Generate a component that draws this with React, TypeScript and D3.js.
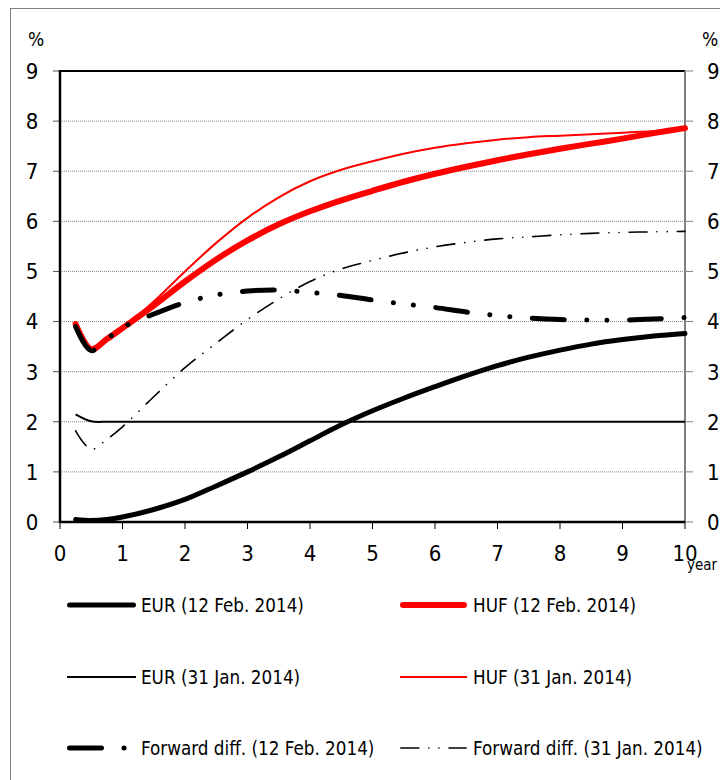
import React from "react";
import * as d3 from "d3";

const years = [0.25, 0.5, 0.75, 1, 1.5, 2, 2.5, 3, 3.5, 4, 4.5, 5, 5.5, 6, 6.5, 7, 7.5, 8, 8.5, 9, 9.5, 10];
const eur12 = [0.05, 0.03, 0.05, 0.1, 0.25, 0.45, 0.72, 1.0, 1.3, 1.62, 1.94, 2.22, 2.47, 2.7, 2.92, 3.12, 3.29, 3.43, 3.55, 3.64, 3.71, 3.76];
const eur31 = [2.15, 2.01, 2.0, 2.0, 2.0, 2.0, 2.0, 2.0, 2.0, 2.0, 2.0, 2.0, 2.0, 2.0, 2.0, 2.0, 2.0, 2.0, 2.0, 2.0, 2.0, 2.0];
const huf12 = [3.95, 3.45, 3.65, 3.87, 4.32, 4.8, 5.24, 5.62, 5.94, 6.2, 6.42, 6.61, 6.79, 6.95, 7.09, 7.22, 7.34, 7.45, 7.55, 7.65, 7.76, 7.86];
const huf31 = [3.95, 3.45, 3.65, 3.87, 4.4, 5.0, 5.57, 6.07, 6.48, 6.8, 7.03, 7.2, 7.35, 7.47, 7.56, 7.63, 7.68, 7.71, 7.74, 7.77, 7.8, 7.84];
const fwd12 = [3.9, 3.42, 3.65, 3.88, 4.15, 4.38, 4.53, 4.61, 4.63, 4.58, 4.52, 4.43, 4.35, 4.28, 4.19, 4.12, 4.07, 4.04, 4.03, 4.03, 4.05, 4.08];
const fwd31 = [1.82, 1.45, 1.65, 1.9, 2.5, 3.08, 3.57, 4.04, 4.45, 4.8, 5.05, 5.22, 5.37, 5.49, 5.58, 5.65, 5.69, 5.73, 5.76, 5.78, 5.79, 5.8];

const yTicks = [0, 1, 2, 3, 4, 5, 6, 7, 8, 9];
const xTicks = [0, 1, 2, 3, 4, 5, 6, 7, 8, 9, 10];

const legendLabels = [
  "EUR (12 Feb. 2014)",
  "HUF (12 Feb. 2014)",
  "EUR (31 Jan. 2014)",
  "HUF (31 Jan. 2014)",
  "Forward diff. (12 Feb. 2014)",
  "Forward diff. (31 Jan. 2014)",
];

const FONT = "'DejaVu Sans Condensed', 'DejaVu Sans', sans-serif";

type Style = { color: string; width: number; dash?: string; cap?: "round" | "butt" };

const styles: Style[] = [
  { color: "#000", width: 5, cap: "round" },
  { color: "#ff0000", width: 6, cap: "round" },
  { color: "#000", width: 2, cap: "butt" },
  { color: "#ff0000", width: 2, cap: "butt" },
  { color: "#000", width: 5, dash: "32,22.5,0.1,20,0.1,22.5", cap: "round" },
  { color: "#000", width: 1.6, dash: "18,10,0.1,10,0.1,10", cap: "round" },
];

export default function App() {
  const W = 720, H = 780;
  const x = d3.scaleLinear().domain([0, 10]).range([60, 685]);
  const y = d3.scaleLinear().domain([0, 9]).range([522, 71]);

  const line = d3
    .line<[number, number]>()
    .x((d) => x(d[0]))
    .y((d) => y(d[1]))
    .curve(d3.curveCatmullRom.alpha(0.5));

  const mk = (vals: number[]) => line(years.map((t, i) => [t, vals[i]] as [number, number])) || "";

  // order matches legendLabels
  const seriesVals = [eur12, huf12, eur31, huf31, fwd12, fwd31];
  const drawOrder = [0, 2, 1, 3, 4, 5];

  const legendRows = [605, 677, 748];
  const legendCols = [
    { x1: 67, x2: 136, tx: 141 },
    { x1: 400, x2: 467, tx: 473 },
  ];

  return (
    <svg
      width={W}
      height={H}
      style={{ position: "absolute", left: 0, top: 0, background: "#fff" }}
      fontFamily={FONT}
    >
      <rect x={0} y={0} width={W} height={H} fill="#fff" />
      {/* outer frame */}
      <rect x={10.5} y={8.5} width={W + 20} height={H + 20} fill="none" stroke="#7f7f7f" strokeWidth={1} />

      {/* gridlines */}
      {yTicks
        .filter((v) => v > 0 && v < 9)
        .map((v) => (
          <line key={"g" + v} x1={x(0)} x2={x(10)} y1={y(v)} y2={y(v)} stroke="#8a8a8a" strokeWidth={1} strokeDasharray="1,1" />
        ))}
      {/* top border */}
      <line x1={x(0)} x2={x(10)} y1={y(9)} y2={y(9)} stroke="#000" strokeWidth={2} />

      {/* left ticks + labels */}
      {yTicks.map((v) => (
        <g key={"l" + v}>
          <line x1={53} x2={x(0)} y1={y(v)} y2={y(v)} stroke="#555" strokeWidth={1} />
          <line x1={x(10)} x2={693} y1={y(v)} y2={y(v)} stroke="#808080" strokeWidth={1} />
          <text x={32} y={y(v)} dy="0.36em" textAnchor="middle" fontSize={22} fill="#000">
            {v}
          </text>
          <text x={707} y={y(v)} dy="0.36em" textAnchor="start" fontSize={22} fill="#000">
            {v}
          </text>
        </g>
      ))}
      <text x={36} y={39} dy="0.36em" textAnchor="middle" fontSize={19}>%</text>
      <text x={710} y={39} dy="0.36em" textAnchor="middle" fontSize={19}>%</text>

      {/* x ticks + labels */}
      {xTicks.map((v) => (
        <g key={"x" + v}>
          <line x1={x(v)} x2={x(v)} y1={y(0)} y2={y(0) + 7} stroke="#000" strokeWidth={1} />
          <text x={x(v)} y={553} dy="0.36em" textAnchor="middle" fontSize={22}>
            {v}
          </text>
        </g>
      ))}
      <text x={687} y={565} dy="0.36em" textAnchor="start" fontSize={15}>year</text>

      {/* axes */}
      <line x1={x(10)} x2={x(10)} y1={y(9)} y2={y(0)} stroke="#808080" strokeWidth={2} />
      <line x1={x(0)} x2={x(0)} y1={y(9) - 1} y2={y(0) + 1} stroke="#000" strokeWidth={2.5} />
      <line x1={x(0)} x2={x(10)} y1={y(0)} y2={y(0)} stroke="#000" strokeWidth={2.5} />

      {/* series */}
      {drawOrder.map((i) => {
        const s = styles[i];
        return (
          <path
            key={"s" + i}
            d={mk(seriesVals[i])}
            fill="none"
            stroke={s.color}
            strokeWidth={s.width}
            strokeDasharray={s.dash}
            strokeLinecap={s.cap}
            strokeLinejoin="round"
          />
        );
      })}

      {/* legend */}
      {legendLabels.map((lab, i) => {
        const row = legendRows[Math.floor(i / 2)];
        const col = legendCols[i % 2];
        const s = styles[i];
        return (
          <g key={"lg" + i}>
            <line
              x1={col.x1 + (s.cap === "round" ? s.width / 2 : 0)}
              x2={col.x2 - (s.cap === "round" ? s.width / 2 : 0)}
              y1={row}
              y2={row}
              stroke={s.color}
              strokeWidth={s.width}
              strokeDasharray={s.dash}
              strokeLinecap={s.cap}
            />
            <text x={col.tx} y={row} dy="0.36em" fontSize={18.7}>
              {lab}
            </text>
          </g>
        );
      })}
    </svg>
  );
}
